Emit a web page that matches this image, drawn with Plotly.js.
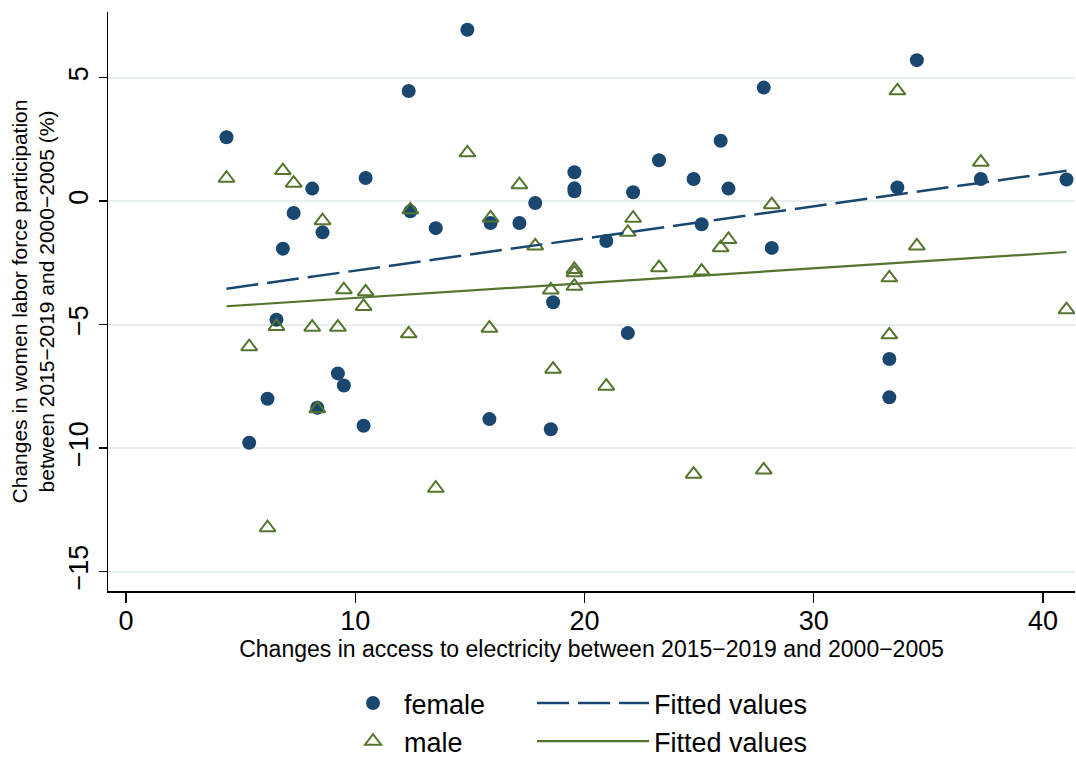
<!DOCTYPE html>
<html>
<head>
<meta charset="utf-8">
<script src="https://cdn.plot.ly/plotly-3.0.1.min.js"></script>
<style>html,body{margin:0;padding:0;background:#fff;}#chart{width:1076px;height:758px;}</style>
</head>
<body>
<div id="chart"></div>
<script>
// Changes in access to electricity (x) shared by both series
const accessChange = [4.38, 5.37, 6.17, 6.56, 6.84, 7.31, 8.12, 8.34, 8.57, 9.24,
  9.50, 10.36, 10.45, 12.33, 12.40, 13.51, 14.89, 15.90, 15.85, 17.16,
  17.85, 18.63, 18.53, 19.56, 19.56, 19.56, 20.95, 21.89, 22.12, 23.25,
  24.76, 25.11, 25.94, 26.28, 27.82, 28.17, 33.30, 33.30, 33.65, 34.50,
  37.29, 41.03];
const femaleChange = [2.59, -9.78, -8.00, -4.80, -1.92, -0.48, 0.51, -8.36, -1.26, -6.97,
  -7.46, -9.09, 0.94, 4.46, -0.41, -1.09, 6.94, -0.88, -8.82, -0.88,
  -0.07, -4.09, -9.23, 1.17, 0.52, 0.40, -1.61, -5.34, 0.36, 1.66,
  0.90, -0.93, 2.45, 0.51, 4.60, -1.89, -6.39, -7.94, 0.56, 5.71,
  0.90, 0.88];
const maleChange = [0.93, -5.89, -13.22, -5.07, 1.24, 0.73, -5.10, -8.40, -0.79, -5.10,
  -3.58, -4.26, -3.67, -5.37, -0.35, -11.62, 1.96, -0.68, -5.14, 0.67,
  -1.81, -6.80, -3.59, -2.76, -2.90, -3.44, -7.49, -1.26, -0.69, -2.69,
  -11.05, -2.83, -1.88, -1.55, -10.88, -0.14, -3.10, -5.41, 4.47, -1.81,
  1.58, -4.39];
const seriesNames = ["female", "male"];
const fitName = "Fitted values";
const yTicks = [-15, -10, -5, 0, 5];
const xTicks = [0, 10, 20, 30, 40];

function linearFit(xs, ys) {
  const n = xs.length;
  let sx = 0, sy = 0;
  for (let i = 0; i < n; i++) { sx += xs[i]; sy += ys[i]; }
  const mx = sx / n, my = sy / n;
  let sxy = 0, sxx = 0;
  for (let i = 0; i < n; i++) { sxy += (xs[i] - mx) * (ys[i] - my); sxx += (xs[i] - mx) * (xs[i] - mx); }
  const b = sxy / sxx, a = my - b * mx;
  const lo = Math.min(...xs), hi = Math.max(...xs);
  return { x: [lo, hi], y: [a + b * lo, a + b * hi] };
}
const fitF = linearFit(accessChange, femaleChange);
const fitM = linearFit(accessChange, maleChange);

const navy = "#1a476f";
const green = "#55752f";
const FONT = "Liberation Sans, Arial, Helvetica, sans-serif";

const traces = [
  { type: "scatter", mode: "markers", name: seriesNames[0], x: accessChange, y: femaleChange,
    marker: { symbol: "circle", size: 14, color: navy, line: { width: 0 } },
    legend: "legend", legendgroup: "f" },
  { type: "scatter", mode: "markers", name: seriesNames[1], x: accessChange, y: maleChange,
    marker: { symbol: "triangle-up-open", size: 14, color: green, line: { width: 2, color: green } },
    legend: "legend", legendgroup: "m" },
  { type: "scatter", mode: "lines", name: fitName, x: fitF.x, y: fitF.y,
    line: { color: navy, width: 2.5, dash: "32px,9px" }, legend: "legend2", legendgroup: "ff" },
  { type: "scatter", mode: "lines", name: fitName, x: fitM.x, y: fitM.y,
    line: { color: green, width: 2.2 }, legend: "legend2", legendgroup: "fm" }
];

const layout = {
  width: 1076, height: 758,
  margin: { l: 108, r: 1, t: 12, b: 167, pad: 0 },
  paper_bgcolor: "#ffffff", plot_bgcolor: "#ffffff",
  font: { family: FONT, color: "#000000", size: 27 },
  showlegend: true,
  xaxis: {
    range: [-0.79, 41.4], tickvals: xTicks, ticktext: xTicks.map(String),
    showgrid: false, zeroline: false, showline: true, linecolor: "#000", linewidth: 1.5,
    ticks: "outside", ticklen: 10, tickwidth: 1.5, tickcolor: "#000",
    tickfont: { size: 27, family: FONT }, ticklabelstandoff: -5,
    title: { text: "Changes in access to electricity between 2015\u22122019 and 2000\u22122005",
      font: { size: 23, family: FONT }, standoff: 2 }
  },
  yaxis: {
    range: [-15.78, 7.66], tickvals: yTicks, ticktext: yTicks.map(v => v < 0 ? "\u2212" + Math.abs(v) : String(v)),
    showgrid: true, gridcolor: "#e6eef0", gridwidth: 1.8, zeroline: false,
    showline: true, linecolor: "#000", linewidth: 1.5,
    ticks: "outside", ticklen: 8, tickwidth: 1.5, tickcolor: "#000", tickangle: -90,
    tickfont: { size: 27, family: FONT },
    title: { text: "Changes in women labor force participation<br>between 2015\u22122019 and 2000\u22122005 (%)",
      font: { size: 21, family: FONT }, standoff: 3 }
  },
  legend: {
    x: 0.242, y: 0.1042, xref: "paper", yref: "container", xanchor: "left", yanchor: "top", orientation: "v",
    bgcolor: "rgba(0,0,0,0)", borderwidth: 0, itemwidth: 52, tracegroupgap: 0,
    traceorder: "grouped", font: { size: 27, family: FONT }
  },
  legend2: {
    x: 0.4385, y: 0.1042, xref: "paper", yref: "container", xanchor: "left", yanchor: "top", orientation: "v",
    bgcolor: "rgba(0,0,0,0)", borderwidth: 0, itemwidth: 112, tracegroupgap: 0,
    traceorder: "grouped", font: { size: 27, family: FONT }
  }
};

Plotly.newPlot("chart", traces, layout, { displayModeBar: false, staticPlot: true });
</script>
</body>
</html>
